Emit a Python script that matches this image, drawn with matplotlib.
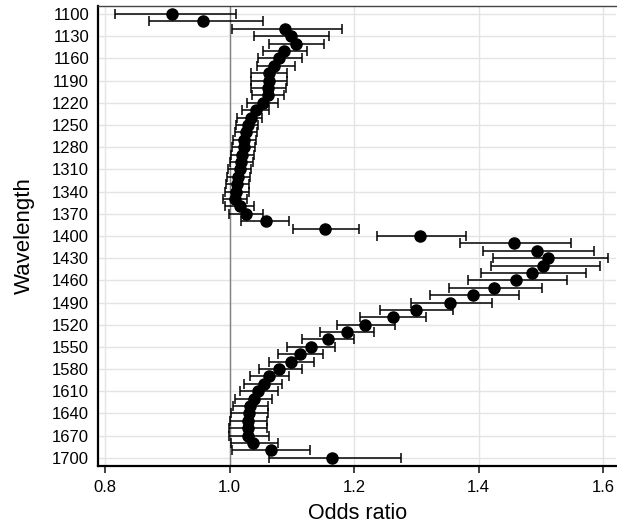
import numpy as np
import matplotlib
matplotlib.use("Agg")
from matplotlib import pyplot as plt

plt.rcParams['font.family'] = ['Liberation Sans', 'DejaVu Sans']

# wavelengths, one estimate every 10 nm
wavelength = list(range(1100, 1701, 10))

odds = [0.908, 0.957, 1.089, 1.098, 1.106, 1.088, 1.080, 1.071, 1.063, 1.063,
        1.062, 1.061, 1.054, 1.043, 1.034, 1.030, 1.027, 1.024, 1.023, 1.020,
        1.019, 1.016, 1.014, 1.012, 1.011, 1.008, 1.016, 1.027, 1.058, 1.153,
        1.306, 1.457, 1.494, 1.512, 1.504, 1.485, 1.460, 1.424, 1.391, 1.354,
        1.299, 1.262, 1.218, 1.188, 1.158, 1.130, 1.113, 1.099, 1.080, 1.064,
        1.055, 1.045, 1.039, 1.033, 1.032, 1.030, 1.029, 1.030, 1.037, 1.066,
        1.165]

ci_low = [0.816, 0.870, 1.004, 1.039, 1.063, 1.053, 1.046, 1.044, 1.035, 1.034,
          1.035, 1.036, 1.028, 1.020, 1.012, 1.010, 1.008, 1.006, 1.004, 1.002,
          1.001, 0.998, 0.996, 0.994, 0.992, 0.990, 0.992, 0.999, 1.019, 1.102,
          1.236, 1.370, 1.407, 1.423, 1.419, 1.403, 1.382, 1.352, 1.322, 1.291,
          1.242, 1.210, 1.173, 1.145, 1.117, 1.093, 1.077, 1.064, 1.048, 1.033,
          1.024, 1.017, 1.009, 1.005, 1.003, 1.001, 0.999, 0.999, 1.003, 1.004,
          1.064]

ci_high = [1.011, 1.054, 1.181, 1.160, 1.151, 1.125, 1.117, 1.105, 1.093, 1.093,
           1.090, 1.087, 1.077, 1.064, 1.052, 1.046, 1.044, 1.042, 1.041, 1.039,
           1.037, 1.035, 1.033, 1.031, 1.031, 1.028, 1.040, 1.054, 1.095, 1.208,
           1.380, 1.548, 1.585, 1.607, 1.594, 1.572, 1.541, 1.501, 1.464, 1.422,
           1.358, 1.315, 1.265, 1.232, 1.199, 1.169, 1.150, 1.135, 1.116, 1.096,
           1.085, 1.077, 1.068, 1.061, 1.061, 1.060, 1.060, 1.063, 1.077, 1.129,
           1.275]

y_ticks = list(range(1100, 1701, 30))
x_ticks = [0.8, 1.0, 1.2, 1.4, 1.6]

odds = np.array(odds)
err = np.vstack([odds - np.array(ci_low), np.array(ci_high) - odds])

fig = plt.figure(figsize=(6.17, 5.24), dpi=100)
ax = fig.add_axes([0.159, 0.111, 0.840, 0.8775])

ax.set_axisbelow(True)
ax.grid(True, color='#e4e4e4', linewidth=1.0)
ax.axvline(1.0, color='#808080', linewidth=1.0, zorder=1)

ax.errorbar(odds, wavelength, xerr=err, fmt='o', color='black',
            markersize=8, elinewidth=1.1, capsize=3.5, capthick=1.1, zorder=3)

ax.set_xlim(0.789, 1.621)
ax.set_ylim(1710.8, 1089.2)
ax.set_xticks(x_ticks)
ax.set_xticklabels(['%.1f' % v for v in x_ticks])
ax.set_yticks(y_ticks)
ax.tick_params(axis='both', labelsize=12, direction='out', width=1.2, color='#222222')
ax.tick_params(axis='x', length=5, pad=5)
ax.tick_params(axis='y', length=0, pad=6.5)

for side in ['left', 'bottom']:
    ax.spines[side].set_linewidth(1.6)
ax.spines['top'].set_linewidth(1.0)
ax.spines['top'].set_color('#444444')
ax.spines['right'].set_visible(False)

ax.set_xlabel('Odds ratio', fontsize=15.5, labelpad=6)
ax.set_ylabel('Wavelength', fontsize=16, labelpad=12)

fig.savefig('out.png', dpi=100)
